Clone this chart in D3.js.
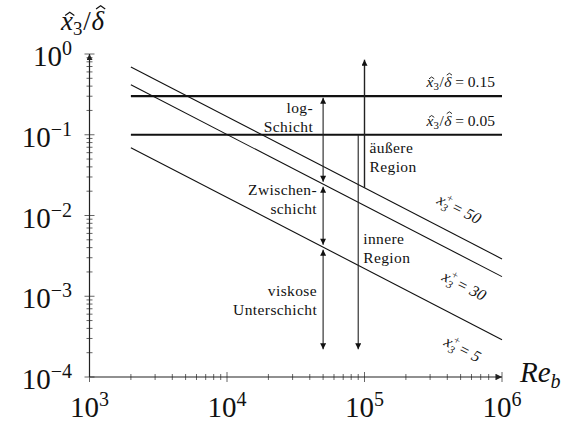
<!DOCTYPE html>
<html>
<head>
<meta charset="utf-8">
<script src="https://cdn.jsdelivr.net/npm/d3@7"></script>
<style>
  body { margin: 0; background: #fff; }
  text { fill: #111; }
</style>
</head>
<body>
<svg id="chart" width="569" height="423"></svg>
<script>
// Re_b range covered by the region boundaries
const reSpan = [2000, 1e6];

// Wall-unit boundaries x3+ = const: x3/delta at both ends of reSpan
const wallPlus = [50, 30, 5];
const wallStart = [0.69, 0.415, 0.069];
const wallEnd = [0.0029, 0.00175, 0.00029];

// Outer-scaled boundaries: drawn level and stated ratio
const outerLevel = [0.3, 0.1];
const outerText = ["0.15", "0.05"];

// Axis decades
const xDecades = [3, 4, 5, 6];
const yDecades = [0, -1, -2, -3, -4];

// Positions of the region arrows along Re_b
const reLayers = 5e4;   // log-, Zwischen-, viskose Schicht
const reInner = 9e4;    // innere Region
const reOuter = 1e5;    // äußere Region
const arrowTop = 0.85;
const arrowBottom = 2.2e-4;

const svg = d3.select("#chart");
const x = d3.scaleLog().domain([1e3, 1e6]).range([89.5, 502]);
const y = d3.scaleLog().domain([1e-4, 1]).range([377, 54]);

const serif = "'Liberation Serif', serif";

// arrowhead markers
const defs = svg.append("defs");
function marker(id, color) {
  defs.append("marker")
    .attr("id", id).attr("viewBox", "0 0 10 10")
    .attr("refX", 10).attr("refY", 5)
    .attr("markerWidth", 7).attr("markerHeight", 6)
    .attr("markerUnits", "userSpaceOnUse")
    .attr("orient", "auto-start-reverse")
    .append("path").attr("d", "M0,0 L10,5 L0,10 Z").attr("fill", color);
}
marker("head", "#111");
marker("axhead", "#222");

// value of a wall line at a given Re_b (straight line in log-log)
function wallAt(i, re) {
  const t = (Math.log10(re) - Math.log10(reSpan[0])) / (Math.log10(reSpan[1]) - Math.log10(reSpan[0]));
  return Math.pow(10, Math.log10(wallStart[i]) + t * (Math.log10(wallEnd[i]) - Math.log10(wallStart[i])));
}

// writes x3/δ (with hats drawn as small paths) into group g at (px, py)
function ratioSymbol(g, px, py, s, anchor, tail) {
  const t = g.append("text").attr("x", px).attr("y", py)
    .attr("text-anchor", anchor)
    .style("font-family", serif).style("font-size", s + "px");
  t.append("tspan").style("font-style", "italic").text("x");
  t.append("tspan").attr("dy", 0.18 * s).style("font-size", (0.7 * s) + "px").text("3");
  t.append("tspan").attr("dx", 0.03 * s).attr("dy", -0.18 * s).text("/");
  t.append("tspan").attr("dx", 0.03 * s).style("font-style", "italic").text("\u03B4");
  if (tail) t.append("tspan").text(tail);
  const node = t.node();
  const content = node.textContent;
  const hat = (idx, rise) => {
    const e = node.getExtentOfChar(idx);
    const cx = e.x + e.width * 0.55 + 0.08 * s;
    const top = py - rise * s;
    const hw = 0.17 * s, hh = 0.12 * s;
    g.append("path")
      .attr("d", `M${cx - hw},${top + hh} L${cx},${top} L${cx + hw},${top + hh}`)
      .attr("fill", "none").attr("stroke", "#111")
      .attr("stroke-width", Math.max(0.9, s * 0.045))
      .attr("stroke-linejoin", "miter");
  };
  hat(content.indexOf("x"), 0.66);
  hat(content.indexOf("\u03B4"), 0.9);
}

// ---- axes ----
const axis = svg.append("g");
const xt = x.ticks();
const yt = y.ticks();
const isMajor = v => Math.abs(Math.log10(v) - Math.round(Math.log10(v))) < 1e-9;

axis.selectAll(".xtick").data(xt).join("line")
  .attr("x1", d => x(d)).attr("x2", d => x(d))
  .attr("y1", d => y(1e-4) - (isMajor(d) ? 5 : 3))
  .attr("y2", d => y(1e-4) + (isMajor(d) ? 5 : 3))
  .attr("stroke", "#666").attr("stroke-width", 1);
axis.selectAll(".ytick").data(yt).join("line")
  .attr("y1", d => y(d)).attr("y2", d => y(d))
  .attr("x1", d => x(1e3) - (isMajor(d) ? 5 : 3))
  .attr("x2", d => x(1e3) + (isMajor(d) ? 5 : 3))
  .attr("stroke", "#666").attr("stroke-width", 1);

axis.append("line")
  .attr("x1", x(1e3)).attr("x2", x(1e6))
  .attr("y1", y(1e-4)).attr("y2", y(1e-4))
  .attr("stroke", "#222").attr("stroke-width", 1.2)
  .attr("marker-end", "url(#axhead)");
axis.append("line")
  .attr("x1", x(1e3)).attr("x2", x(1e3))
  .attr("y1", y(1e-4)).attr("y2", y(1))
  .attr("stroke", "#222").attr("stroke-width", 1.2)
  .attr("marker-end", "url(#axhead)");

// decade labels
xDecades.forEach(e => {
  const t = axis.append("text")
    .attr("x", x(Math.pow(10, e))).attr("y", 417)
    .attr("text-anchor", "middle")
    .style("font-family", serif).style("font-size", "29px");
  t.append("tspan").text("10");
  t.append("tspan").attr("dy", -11).style("font-size", "20px").text(e);
});
yDecades.forEach(e => {
  const t = axis.append("text")
    .attr("x", 72).attr("y", y(Math.pow(10, e)) + 12)
    .attr("text-anchor", "end")
    .style("font-family", serif).style("font-size", "29px");
  t.append("tspan").text("10");
  t.append("tspan").attr("dy", -11).style("font-size", "20px")
    .text(e < 0 ? "\u2212" + (-e) : e);
});

// axis titles
ratioSymbol(svg.append("g"), 61, 30, 27, "start", null);

const xTitle = svg.append("text").attr("x", 520).attr("y", 382)
  .style("font-family", serif).style("font-size", "29px");
xTitle.append("tspan").style("font-style", "italic").text("Re");
xTitle.append("tspan").attr("dy", 6).style("font-size", "20px").style("font-style", "italic").text("b");

// ---- boundary lines ----
const plot = svg.append("g");
const line = d3.line().x(d => x(d[0])).y(d => y(d[1]));

plot.selectAll(".wall").data(wallPlus).join("path")
  .attr("d", (d, i) => line([[reSpan[0], wallStart[i]], [reSpan[1], wallEnd[i]]]))
  .attr("fill", "none").attr("stroke", "#111").attr("stroke-width", 1.1);

plot.selectAll(".outer").data(outerLevel).join("path")
  .attr("d", d => line([[reSpan[0], d], [reSpan[1], d]]))
  .attr("fill", "none").attr("stroke", "#111").attr("stroke-width", 2.2);

// labels on the outer lines
outerLevel.forEach((v, i) => {
  ratioSymbol(plot.append("g"), 495, y(v) - 9, 15.5, "end", " = " + outerText[i]);
});

// labels along the wall lines
const wallLabelAt = [[3.31e5, 0.0143], [3.6e5, 0.0016], [3.72e5, 0.00025]];
const angle = Math.atan2(y(wallEnd[0]) - y(wallStart[0]), x(reSpan[1]) - x(reSpan[0])) * 180 / Math.PI;
wallPlus.forEach((p, i) => {
  const t = plot.append("text")
    .attr("transform", `translate(${x(wallLabelAt[i][0])},${y(wallLabelAt[i][1])}) rotate(${angle})`)
    .style("font-family", serif).style("font-size", "16px").style("font-style", "italic");
  t.append("tspan").text("x");
  t.append("tspan").attr("dy", 4).style("font-size", "11px").text("3");
  t.append("tspan").attr("dx", -6).attr("dy", -11).style("font-size", "11px").text("+");
  t.append("tspan").attr("dx", 2).attr("dy", 7).text("= " + p);
});

// ---- region arrows ----
function arrow(re, v0, v1, opts) {
  const gap0 = opts.gap0 || 0, gap1 = opts.gap1 || 0;
  const p = plot.append("line")
    .attr("x1", x(re)).attr("x2", x(re))
    .attr("y1", y(v0) + (y(v1) > y(v0) ? gap0 : -gap0))
    .attr("y2", y(v1) + (y(v1) > y(v0) ? -gap1 : gap1))
    .attr("stroke", "#222").attr("stroke-width", opts.w || 1.1);
  if (opts.start) p.attr("marker-start", "url(#head)");
  if (opts.end) p.attr("marker-end", "url(#head)");
}
// layers at reLayers
arrow(reLayers, outerLevel[0], wallAt(1, reLayers), { start: true, end: true, gap0: 1.5, gap1: 2.5 });
arrow(reLayers, wallAt(1, reLayers), wallAt(2, reLayers), { start: true, end: true, gap0: 2.5, gap1: 2.5 });
arrow(reLayers, wallAt(2, reLayers), arrowBottom, { start: true, end: true, gap0: 2.5 });
// inner region
arrow(reInner, outerLevel[1], arrowBottom, { end: true });
// outer region
arrow(reOuter, wallAt(0, reOuter), arrowTop, { end: true, w: 1.4 });

// region names
const regionText = [
  { re: reLayers, v: 0.186, dx: -10, anchor: "end", lines: ["log-", "Schicht"] },
  { re: reLayers, v: 0.018, dx: -6, anchor: "end", lines: ["Zwischen-", "schicht"] },
  { re: reLayers, v: 0.00101, dx: -6, anchor: "end", lines: ["viskose", "Unterschicht"] },
  { re: reOuter, v: 0.0595, dx: 5, anchor: "start", lines: ["äußere", "Region"] },
  { re: reInner, v: 0.00445, dx: 5, anchor: "start", lines: ["innere", "Region"] }
];
regionText.forEach(r => {
  r.lines.forEach((s, k) => {
    plot.append("text")
      .attr("x", x(r.re) + r.dx).attr("y", y(r.v) + k * 19)
      .attr("text-anchor", r.anchor)
      .style("font-family", serif).style("font-size", "15.5px")
      .style("letter-spacing", "0.4px")
      .text(s);
  });
});
</script>
</body>
</html>
